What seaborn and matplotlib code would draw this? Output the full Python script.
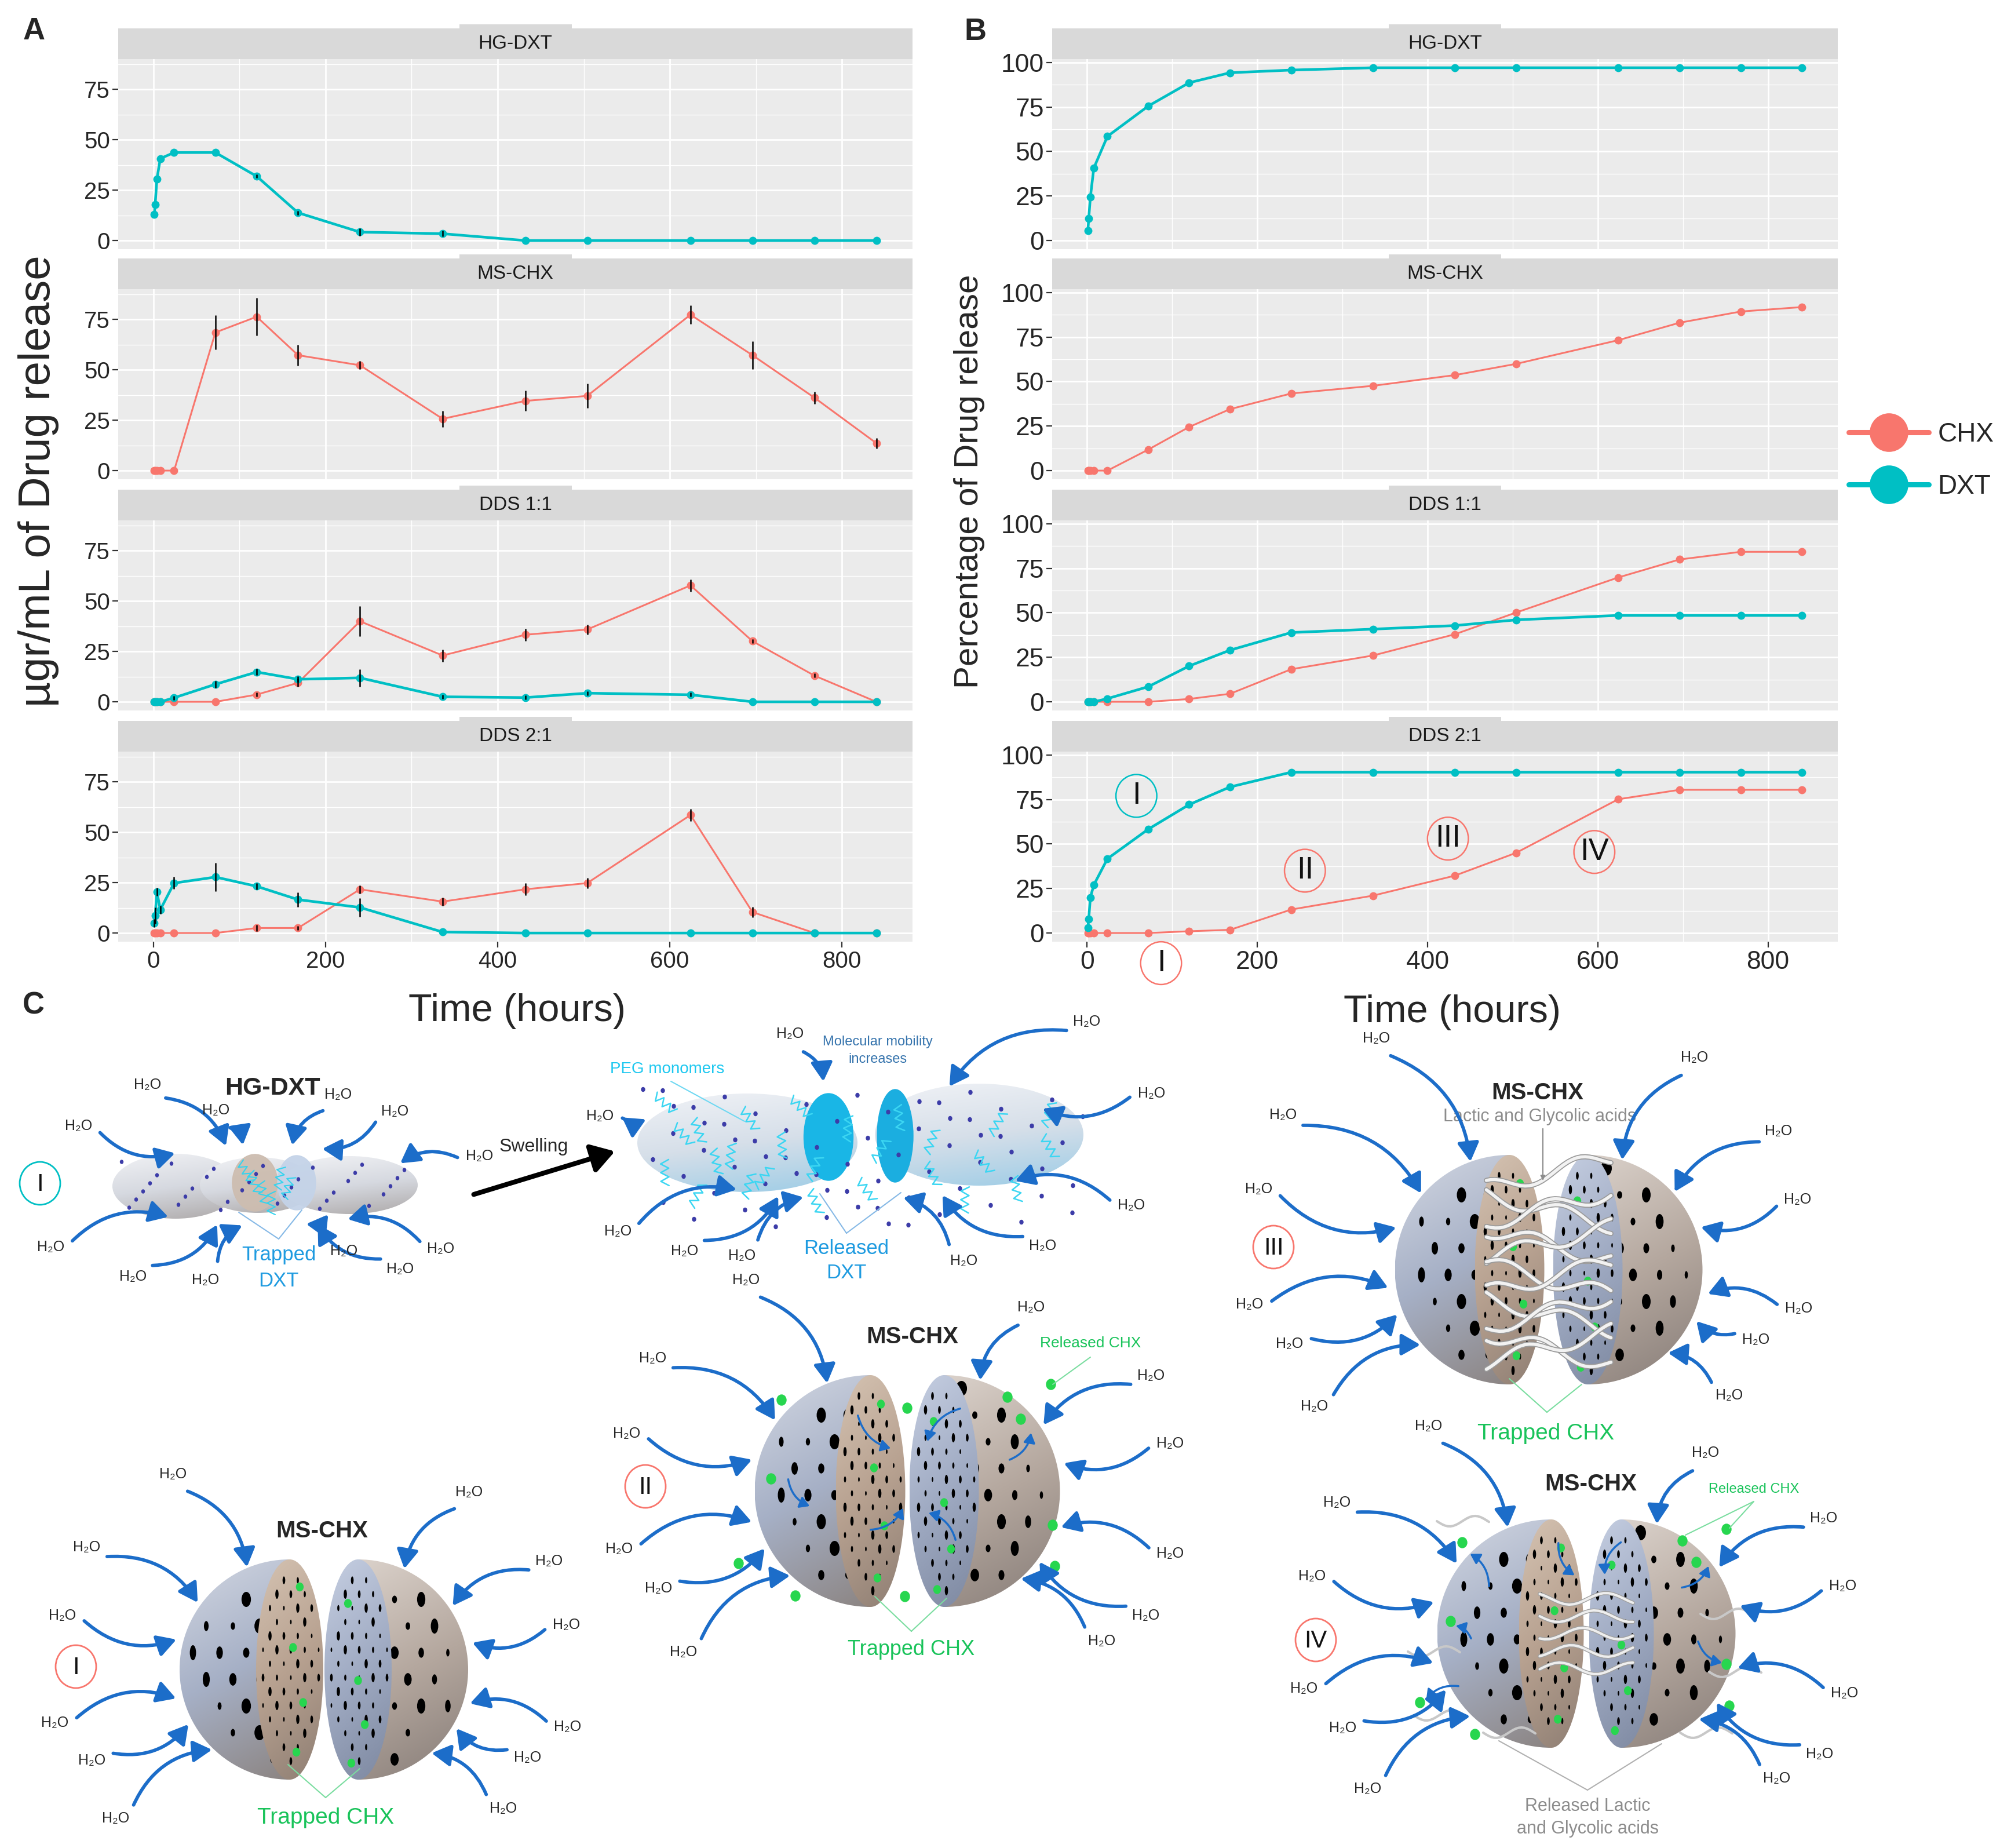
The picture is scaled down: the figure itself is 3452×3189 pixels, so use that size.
import matplotlib.pyplot as plt
import matplotlib.patheffects as pe
import numpy as np
import pandas as pd
import seaborn as sns
from matplotlib.colors import LinearSegmentedColormap
from matplotlib.lines import Line2D
from matplotlib.patches import Ellipse, FancyArrowPatch, Rectangle, Wedge

W, H = 3452, 3189
PALETTE = {'CHX': '#F8766D', 'DXT': '#00BFC4'}
LINE_W = {'CHX': 2.2, 'DXT': 3.3}
WATER = '#1C6DC9'
GREEN = '#19C35A'

times = [1, 2, 4, 8, 24, 72, 120, 168, 240, 336, 432, 504, 624, 696, 768, 840]
facets = ['HG-DXT', 'MS-CHX', 'DDS 1:1', 'DDS 2:1']

# A: ugr/mL released (mean and half error bar)
conc_hg_dxt = [13.1, 17.9, 30.5, 40.7, 43.7, 43.7, 31.9, 13.8, 4.2, 3.4, 0, 0, 0, 0, 0, 0]
conc_hg_dxt_err = [0, 0, 0, 0, 0, 0, 0.8, 1.0, 2.0, 1.5, 0, 0, 0, 0, 0, 0]
conc_ms_chx = [0, 0, 0, 0, 0, 68.6, 76.4, 57.3, 52.3, 25.7, 34.6, 37.1, 77.4, 57.3, 36.2, 13.6]
conc_ms_chx_err = [0, 0, 0, 0, 0, 8.4, 9.4, 5.2, 2.0, 4.0, 5.0, 6.0, 4.5, 7.0, 3.0, 2.5]
conc_dds11_chx = [0, 0, 0, 0, 0, 0, 3.6, 9.4, 40.0, 23.0, 33.3, 35.9, 57.8, 30.1, 13.0, 0]
conc_dds11_chx_err = [0, 0, 0, 0, 0, 0, 1.0, 2.0, 7.6, 3.0, 3.0, 2.5, 3.0, 1.0, 1.0, 0]
conc_dds11_dxt = [0, 0, 0, 0, 2.0, 8.7, 14.8, 11.2, 11.9, 2.5, 2.1, 4.3, 3.5, 0, 0, 0]
conc_dds11_dxt_err = [0, 0, 0, 0, 1.0, 1.8, 1.5, 1.5, 4.3, 1.0, 1.0, 1.0, 1.0, 0, 0, 0]
conc_dds21_chx = [0, 0, 0, 0, 0, 0, 2.5, 2.5, 21.7, 15.6, 21.7, 24.8, 58.6, 10.4, 0, 0]
conc_dds21_chx_err = [0, 0, 0, 0, 0, 0, 1.5, 1.0, 2.0, 2.0, 3.0, 2.5, 3.0, 2.5, 0, 0]
conc_dds21_dxt = [5.0, 8.6, 20.4, 11.6, 24.8, 27.8, 23.2, 16.6, 12.7, 0.5, 0, 0, 0, 0, 0, 0]
conc_dds21_dxt_err = [2.0, 4.0, 2.0, 2.0, 3.0, 7.0, 1.5, 3.5, 4.5, 0, 0, 0, 0, 0, 0, 0]

# B: cumulative percentage released
pct_hg_dxt = [5.4, 12.3, 24.5, 40.7, 58.5, 75.5, 88.6, 94.2, 95.7, 97, 97, 97, 97, 97, 97, 97]
pct_ms_chx = [0, 0, 0, 0, 0, 11.8, 24.5, 34.5, 43.3, 47.6, 53.6, 59.9, 73.2, 83.0, 89.3, 91.8]
pct_dds11_chx = [0, 0, 0, 0, 0, 0, 1.6, 4.5, 18.3, 26.0, 37.9, 50.1, 69.8, 79.9, 84.2, 84.2]
pct_dds11_dxt = [0, 0, 0, 0, 1.8, 8.5, 20.1, 29.0, 38.9, 40.8, 42.8, 46.0, 48.5, 48.5, 48.5, 48.5]
pct_dds21_chx = [0, 0, 0, 0, 0, 0, 1.0, 1.8, 13.2, 21.0, 32.2, 45.0, 75.1, 80.4, 80.4, 80.4]
pct_dds21_dxt = [3.0, 7.9, 20.0, 27.0, 41.7, 58.3, 72.1, 82.0, 90.3, 90.3, 90.3, 90.3,
                 90.3, 90.3, 90.3, 90.3]

# release stages marked on B / DDS 2:1
stage_labels = ['I', 'II', 'III', 'IV', 'I']
stage_times = [58, 256, 424, 596, 87]
stage_pcts = [77, 35, 53, 45.5, -16.9]
stage_drugs = ['DXT', 'CHX', 'CHX', 'CHX', 'CHX']

# layout (pixels)
PANEL_TOP = [102, 499, 898, 1297]
PANEL_H = 328
STRIP_H = 53
NUMERAL_FONT = ['Liberation Sans', 'DejaVu Sans']


def long_frame(pairs):
    rows = []
    for facet, drug, vals, errs in pairs:
        errs = errs if errs is not None else [0] * len(vals)
        for t, v, e in zip(times, vals, errs):
            rows.append({'facet': facet, 'drug': drug, 'time': t, 'value': v, 'err': e})
    return pd.DataFrame(rows)


conc = long_frame([
    ('HG-DXT', 'DXT', conc_hg_dxt, conc_hg_dxt_err),
    ('MS-CHX', 'CHX', conc_ms_chx, conc_ms_chx_err),
    ('DDS 1:1', 'CHX', conc_dds11_chx, conc_dds11_chx_err),
    ('DDS 1:1', 'DXT', conc_dds11_dxt, conc_dds11_dxt_err),
    ('DDS 2:1', 'CHX', conc_dds21_chx, conc_dds21_chx_err),
    ('DDS 2:1', 'DXT', conc_dds21_dxt, conc_dds21_dxt_err),
])
pct = long_frame([
    ('HG-DXT', 'DXT', pct_hg_dxt, None),
    ('MS-CHX', 'CHX', pct_ms_chx, None),
    ('DDS 1:1', 'CHX', pct_dds11_chx, None),
    ('DDS 1:1', 'DXT', pct_dds11_dxt, None),
    ('DDS 2:1', 'CHX', pct_dds21_chx, None),
    ('DDS 2:1', 'DXT', pct_dds21_dxt, None),
])

sns.set_theme(style='darkgrid')
plt.rcParams['font.family'] = ['Liberation Sans', 'DejaVu Sans']

fig = plt.figure(figsize=(W / 100, H / 100), dpi=100)
fig.patch.set_facecolor('white')

ov = fig.add_axes([0, 0, 1, 1])
ov.axis('off')


def fig_rect(x0, y0, x1, y1):
    return [x0 / W, 1 - y1 / H, (x1 - x0) / W, (y1 - y0) / H]


def draw_column(df, x0, x1, tick_size):
    hi = (df['value'] + df['err']).max()
    ylim = (-0.05 * hi, 1.05 * hi)
    t_lo, t_hi = min(times), max(times)
    xlim = (t_lo - 0.05 * (t_hi - t_lo), t_hi + 0.05 * (t_hi - t_lo))
    axes = []
    for i, facet in enumerate(facets):
        top = PANEL_TOP[i]
        strip = fig.add_axes(fig_rect(x0, top - STRIP_H, x1, top))
        strip.set_facecolor('#D9D9D9')
        strip.set_xticks([])
        strip.set_yticks([])
        strip.grid(False)
        for s in strip.spines.values():
            s.set_visible(False)
        strip.text(0.5, 0.5, facet, ha='center', va='center', fontsize=24,
                   color='#1A1A1A', transform=strip.transAxes)

        ax = fig.add_axes(fig_rect(x0, top, x1, top + PANEL_H))
        ax.set_facecolor('#EBEBEB')
        sub = df[df['facet'] == facet]
        sns.lineplot(data=sub, x='time', y='value', hue='drug', size='drug',
                     palette=PALETTE, sizes=LINE_W, marker='o', markersize=10,
                     markeredgewidth=0, errorbar=None, legend=False, ax=ax)
        bars = sub[sub['err'] > 0]
        ax.vlines(bars['time'], bars['value'] - bars['err'], bars['value'] + bars['err'],
                  color='black', lw=1.8, zorder=4)
        ax.set_xlim(xlim)
        ax.set_ylim(ylim)
        ax.set_xticks([0, 200, 400, 600, 800])
        ax.set_xticks([100, 300, 500, 700], minor=True)
        ax.set_yticks(np.arange(0, ylim[1], 25))
        ax.set_yticks(np.arange(12.5, ylim[1], 25), minor=True)
        ax.grid(True, which='major', color='white', lw=2.0)
        ax.grid(True, which='minor', color='white', lw=1.0)
        ax.set_axisbelow(True)
        ax.set_xlabel('')
        ax.set_ylabel('')
        for s in ax.spines.values():
            s.set_visible(False)
        ax.tick_params(which='minor', length=0)
        ax.tick_params(axis='y', which='major', left=True, length=7, width=1.6,
                       color='#333333', labelsize=tick_size, labelcolor='#262626', pad=3)
        if i == len(facets) - 1:
            ax.tick_params(axis='x', which='major', bottom=True, length=7, width=1.6,
                           color='#333333', labelsize=tick_size, labelcolor='#262626', pad=4)
        else:
            ax.tick_params(axis='x', which='major', length=0, labelbottom=False)
        axes.append(ax)
        ov.add_patch(Rectangle(((x0 + x1) / 2 - 97, top - STRIP_H - 7), 194, 7,
                               color='#D9D9D9', lw=0))
    return axes


axes_a = draw_column(conc, 204, 1575, 29)
axes_b = draw_column(pct, 1816, 3172, 32)

# release stage marks on B / DDS 2:1
ax_s = axes_b[-1]
for lab, t, p, drug in zip(stage_labels, stage_times, stage_pcts, stage_drugs):
    ax_s.add_patch(Ellipse((t, p), 48, 24, fill=False, ec=PALETTE[drug], lw=1.8,
                           clip_on=False, zorder=6))
    ax_s.text(t, p, lab, ha='center', va='center', fontsize=38,
              family=NUMERAL_FONT, color='#111111', clip_on=False, zorder=6)

handles = [Line2D([], [], color=PALETTE[d], lw=6.5, marker='o', markersize=48,
                  markeredgewidth=0) for d in ['CHX', 'DXT']]
fig.legend(handles, ['CHX', 'DXT'], loc='center left',
           bbox_to_anchor=(3191 / W, 1 - 795 / H), frameon=False, fontsize=33,
           handlelength=3.0, handletextpad=0.35, labelspacing=1.0,
           borderpad=0, borderaxespad=0)

# titles and panel letters
ov.text(892, 1745, 'Time (hours)', ha='center', va='center', fontsize=48)
ov.text(2506, 1747, 'Time (hours)', ha='center', va='center', fontsize=48)
ov.text(66, 830, 'µgr/mL of Drug release', rotation=90, ha='center', va='center', fontsize=55)
ov.text(1673, 831, 'Percentage of Drug release', rotation=90, ha='center', va='center',
        fontsize=42)
for letter, x, y in [('A', 59, 54), ('B', 1683, 55), ('C', 58, 1736)]:
    ov.text(x, y, letter, ha='center', va='center', fontsize=38, fontweight='bold')


# ---------- panel C: schematic ----------
def shade(patch, box, colors, z):
    ov.add_patch(patch)
    patch.set_facecolor('none')
    patch.set_edgecolor('none')
    patch.set_zorder(z)
    cmap = LinearSegmentedColormap.from_list('shade', colors)
    yy, xx = np.mgrid[0:1:80j, 0:1:80j]
    im = ov.imshow(0.78 * yy + 0.22 * xx, cmap=cmap, extent=(box[0], box[2], box[3], box[1]),
                   aspect='auto', zorder=z, interpolation='bilinear')
    im.set_clip_path(patch)


def holes(cx, cy, R, step, big, narrow, z, face_w=None, side=0):
    n = int(2 * R / step) + 1
    for r in range(n):
        for c in range(n + 1):
            x = cx - R + (c + 0.5 * (r % 2)) * step
            y = cy - R + (r + 0.5) * step
            if face_w is None:
                if (x - cx) ** 2 + (y - cy) ** 2 > (0.9 * R) ** 2 or (x - cx) * side < 0:
                    continue
                squeeze = max(0.35, 1 - abs(x - cx) / R * 0.55)
            else:
                if ((x - cx) / face_w) ** 2 + ((y - cy) / R) ** 2 > 0.8:
                    continue
                squeeze = 1.0
            s = big * (0.5 + 0.5 * ((r * 5 + c * 3) % 4) / 3)
            ov.add_patch(Ellipse((x, y), s * narrow * squeeze, s, color='black', lw=0, zorder=z))


def split_sphere(cx, cy, R, gap, fw):
    xl, xr = cx - gap / 2, cx + gap / 2
    shade(Wedge((xl, cy), R, 90, 270), (xl - R, cy - R, xl, cy + R),
          ['#D2D7E2', '#A6B0C6', '#8C8583'], 3)
    holes(xl, cy, R, 46, 26, 0.8, 3.5, side=-1)
    shade(Ellipse((xl, cy), 2 * fw, 2 * R), (xl - fw, cy - R, xl + fw, cy + R),
          ['#D5C3B2', '#B7A190', '#8E7E73'], 4)
    holes(xl, cy, R, 24, 16, 0.35, 4.5, face_w=fw)
    shade(Wedge((xr, cy), R, -90, 90), (xr, cy - R, xr + R, cy + R),
          ['#DAD1CA', '#B4A79E', '#877D78'], 3)
    holes(xr, cy, R, 46, 26, 0.8, 3.5, side=1)
    shade(Ellipse((xr, cy), 2 * fw, 2 * R), (xr - fw, cy - R, xr + fw, cy + R),
          ['#C6CFE2', '#A0ABC3', '#7D88A0'], 4)
    holes(xr, cy, R, 24, 16, 0.35, 4.5, face_w=fw)
    for fx, fy in [(0.3, -0.75), (0.1, -0.2), (0.4, 0.3), (0.2, 0.75)]:
        ov.add_patch(Ellipse((xl + fw * fx, cy + R * fy), 12, 14, color='#27D64F', zorder=5))
    for fx, fy in [(-0.3, -0.6), (0.0, 0.1), (0.2, 0.5), (-0.2, 0.85)]:
        ov.add_patch(Ellipse((xr + fw * fx, cy + R * fy), 12, 14, color='#27D64F', zorder=5))
    return xl, xr


def water_arrows(cx, cy, rx, ry, labels):
    for k, (lx, ly) in enumerate(labels):
        phi = np.arctan2((ly - cy) / ry, (lx - cx) / rx)
        ex, ey = np.cos(phi), np.sin(phi)
        nx, ny = ex / np.hypot(ex, ey), ey / np.hypot(ex, ey)
        hx, hy = cx + rx * ex + 12 * nx, cy + ry * ey + 12 * ny
        d = np.hypot(hx - lx, hy - ly)
        tx, ty = lx + (hx - lx) * 36 / d, ly + (hy - ly) * 36 / d
        rad = 0.3 if k % 2 else -0.3
        ov.add_patch(FancyArrowPatch((tx, ty), (hx, hy), connectionstyle=f'arc3,rad={rad}',
                                     arrowstyle='-|>,head_length=0.7,head_width=0.4',
                                     mutation_scale=28, color=WATER, lw=4.2, zorder=7))
        ov.text(lx, ly, 'H₂O', ha='center', va='center', fontsize=18, zorder=8)


def circled(x, y, lab, color, size=30):
    ov.add_patch(Ellipse((x, y), 70, 74, fill=False, ec=color, lw=2, zorder=8))
    ov.text(x, y + 2, lab, ha='center', va='center', fontsize=size,
            family=NUMERAL_FONT, color='#111111', zorder=9)


def zigzag(x, y, length, angle, color, lw=1.8, z=6):
    n = 7
    s = np.linspace(0, length, n)
    off = np.where(np.arange(n) % 2, 7, -7)
    a = np.deg2rad(angle)
    xs = x + s * np.cos(a) - off * np.sin(a)
    ys = y + s * np.sin(a) + off * np.cos(a)
    ov.plot(xs, ys, color=color, lw=lw, zorder=z)


def leader(x0, y0, ends, color, lw=1.5):
    for ex, ey in ends:
        ov.plot([x0, ex], [y0, ey], color=color, lw=lw, zorder=9)


# I: hydrogel HG-DXT
for (gx, gy), gw, gh in [((303, 2047), 218, 112), ((445, 2045), 200, 96),
                         ((603, 2045), 236, 100)]:
    shade(Ellipse((gx, gy), gw, gh), (gx - gw / 2, gy - gh / 2, gx + gw / 2, gy + gh / 2),
          ['#F1F2F5', '#D6D9E0', '#ADA9A9'], 3)
ov.add_patch(Ellipse((440, 2041), 78, 98, color='#CDBDB0', alpha=0.95, zorder=4))
ov.add_patch(Ellipse((512, 2041), 66, 94, color='#C4D3E8', alpha=0.95, zorder=4))
for k in range(6):
    zigzag(414 + k * 18, 2005 + (k * 17) % 60, 40, 60 + k * 10, '#35D3EE', lw=1.5)
for k in range(34):
    ov.add_patch(Ellipse((210 + (k * 61) % 500, 2005 + (k * 23) % 85), 5, 6,
                         color='#3C3CA8', zorder=5))
ov.text(470, 1878, 'HG-DXT', ha='center', va='center', fontsize=31, fontweight='bold')
ov.text(481, 2165, 'Trapped', ha='center', va='center', fontsize=25, color='#1F9BE0')
ov.text(481, 2211, 'DXT', ha='center', va='center', fontsize=25, color='#1F9BE0')
leader(481, 2138, [(412, 2092), (521, 2088)], '#86B9E6')
water_arrows(457, 2046, 264, 56, [(255, 1872), (136, 1943), (373, 1916), (584, 1889),
                                  (682, 1918), (828, 1995), (88, 2152), (230, 2203),
                                  (355, 2209), (594, 2159), (691, 2190), (761, 2155)])
circled(69, 2042, 'I', PALETTE['DXT'])

ov.text(921, 1979, 'Swelling', ha='center', va='center', fontsize=23)
ov.add_patch(FancyArrowPatch((815, 2062), (1064, 1986), arrowstyle='-|>,head_length=0.8,head_width=0.5',
                             mutation_scale=30, color='black', lw=6, zorder=7))

# swollen hydrogel
shade(Ellipse((1290, 1972), 380, 170), (1100, 1887, 1480, 2057), ['#F0F2F6', '#D6DFE9', '#9CCCE6'], 3)
shade(Ellipse((1690, 1958), 360, 176), (1510, 1870, 1870, 2046), ['#F0F2F6', '#D6DFE9', '#9CCCE6'], 3)
ov.add_patch(Ellipse((1430, 1962), 85, 150, color='#19B6E6', zorder=4))
ov.add_patch(Ellipse((1545, 1960), 62, 160, color='#1BAEE0', zorder=4))
for k in range(26):
    zigzag(1130 + (k * 67) % 720, 1890 + (k * 41) % 170, 45, 40 + (k * 29) % 90, '#3CD6F2')
for k in range(70):
    ov.add_patch(Ellipse((1110 + (k * 53) % 760, 1880 + (k * 29) % 240), 6, 7,
                         color='#3C3CA8', zorder=5))
ov.text(1152, 1845, 'PEG monomers', ha='center', va='center', fontsize=20, color='#1EC8F0')
leader(1158, 1866, [(1285, 1935)], '#6FD8F2')
ov.text(1515, 1798, 'Molecular mobility', ha='center', va='center', fontsize=17, color='#3674AD')
ov.text(1515, 1828, 'increases', ha='center', va='center', fontsize=17, color='#3674AD')
ov.text(1461, 2155, 'Released', ha='center', va='center', fontsize=25, color='#1F9BE0')
ov.text(1461, 2196, 'DXT', ha='center', va='center', fontsize=25, color='#1F9BE0')
leader(1461, 2128, [(1415, 2060), (1555, 2058)], '#86B9E6')
water_arrows(1476, 1968, 375, 88, [(1364, 1784), (1036, 1926), (1067, 2125), (1182, 2159),
                                   (1281, 2167), (1664, 2176), (1800, 2150), (1876, 1763),
                                   (1988, 1887), (1953, 2080)])

# MS-CHX, stage I
split_sphere(559, 2881, 190, 118, 58)
ov.text(556, 2642, 'MS-CHX', ha='center', va='center', fontsize=29, fontweight='bold')
ov.text(562, 3137, 'Trapped CHX', ha='center', va='center', fontsize=28, color=GREEN)
leader(562, 3102, [(497, 3045), (621, 3052)], '#7BDDA0')
water_arrows(559, 2881, 249, 190, [(299, 2544), (810, 2575), (150, 2670), (108, 2788),
                                   (95, 2973), (159, 3038), (200, 3138), (948, 2694),
                                   (978, 2804), (980, 2980), (911, 3033), (869, 3121)])
circled(131, 2876, 'I', PALETTE['CHX'])

# MS-CHX, stage II
split_sphere(1566, 2573, 200, 127, 60)
for gx, gy in [(1349, 2416), (1566, 2430), (1331, 2552), (1275, 2698), (1373, 2754),
               (1562, 2755), (1817, 2632), (1821, 2703), (1739, 2411), (1762, 2449),
               (1814, 2389)]:
    ov.add_patch(Ellipse((gx, gy), 16, 18, color='#27D64F', zorder=6))
for (ax0, ay0), (ax1, ay1) in [((1480, 2440), (1540, 2500)), ((1660, 2430), (1600, 2490)),
                               ((1500, 2640), (1560, 2600)), ((1650, 2660), (1600, 2610)),
                               ((1740, 2520), (1780, 2470)), ((1360, 2550), (1400, 2600))]:
    ov.add_patch(FancyArrowPatch((ax0, ay0), (ax1, ay1), connectionstyle='arc3,rad=0.3',
                                 arrowstyle='-|>,head_length=0.5,head_width=0.3',
                                 mutation_scale=20, color=WATER, lw=2.5, zorder=6))
ov.text(1575, 2307, 'MS-CHX', ha='center', va='center', fontsize=29, fontweight='bold')
ov.text(1882, 2318, 'Released CHX', ha='center', va='center', fontsize=19, color=GREEN)
leader(1882, 2342, [(1817, 2389)], '#7BDDA0')
ov.text(1573, 2847, 'Trapped CHX', ha='center', va='center', fontsize=26, color=GREEN)
leader(1573, 2815, [(1510, 2755), (1634, 2758)], '#7BDDA0')
water_arrows(1566, 2573, 263, 200, [(1288, 2209), (1780, 2256), (1127, 2344), (1082, 2474),
                                    (1069, 2673), (1137, 2741), (1180, 2851), (1987, 2374),
                                    (2020, 2491), (2020, 2681), (1978, 2788), (1902, 2832)])
circled(1114, 2565, 'II', PALETTE['CHX'])

# MS-CHX, stage III
xl3, xr3 = split_sphere(2673, 2191, 198, 135, 60)
for k in range(11):
    y0 = 2191 - 150 + k * 30
    xs = np.linspace(xl3 - 40, xr3 + 40, 30)
    ys = y0 + 14 * np.sin((xs - xl3) / 25 + k) + (xs - xl3) * 0.25 * (1 if k % 2 else -1)
    ov.plot(xs, ys, color='#F2F2F2', lw=4, zorder=6,
            path_effects=[pe.Stroke(linewidth=6.5, foreground='#9A9A9A'), pe.Normal()])
ov.text(2654, 1886, 'MS-CHX', ha='center', va='center', fontsize=29, fontweight='bold')
ov.text(2658, 1927, 'Lactic and Glycolic acids', ha='center', va='center', fontsize=22,
        color='#8C8C8C')
ov.annotate('', xy=(2663, 2040), xytext=(2663, 1945),
            arrowprops=dict(arrowstyle='-|>', color='#8C8C8C', lw=1.5), zorder=9)
ov.text(2668, 2474, 'Trapped CHX', ha='center', va='center', fontsize=28, color=GREEN)
leader(2670, 2437, [(2605, 2379), (2730, 2389)], '#7BDDA0')
water_arrows(2673, 2191, 266, 198, [(2376, 1792), (2925, 1825), (2215, 1924), (2173, 2052),
                                    (2157, 2251), (2226, 2319), (2269, 2427), (3070, 1952),
                                    (3103, 2070), (3105, 2258), (3031, 2312), (2985, 2408)])
circled(2198, 2152, 'III', PALETTE['CHX'])

# MS-CHX, stage IV
xl4, xr4 = split_sphere(2738, 2819, 197, 121, 56)
for k in range(5):
    y0 = 2819 - 60 + k * 30
    xs = np.linspace(xl4 - 20, xr4 + 20, 20)
    ys = y0 + 10 * np.sin((xs - xl4) / 20 + k)
    ov.plot(xs, ys, color='#EEEEEE', lw=3, zorder=6,
            path_effects=[pe.Stroke(linewidth=5, foreground='#A0A0A0'), pe.Normal()])
for sx, sy in [(2480, 2625), (2430, 2850), (2440, 2960), (2935, 2785), (2950, 2885),
               (2560, 2990), (2900, 2990)]:
    xs = np.linspace(sx, sx + 90, 20)
    ov.plot(xs, sy + 9 * np.sin((xs - sx) / 14), color='#C8C8C8', lw=3, zorder=6)
for gx, gy in [(2524, 2662), (2504, 2798), (2451, 2938), (2546, 2993), (2904, 2659),
               (2980, 2639), (2928, 2696), (2980, 2872), (2985, 2944)]:
    ov.add_patch(Ellipse((gx, gy), 16, 18, color='#27D64F', zorder=6))
for (ax0, ay0), (ax1, ay1) in [((2570, 2740), (2535, 2680)), ((2540, 2830), (2510, 2805)),
                               ((2520, 2910), (2460, 2935)), ((2900, 2740), (2950, 2700)),
                               ((2930, 2830), (2975, 2870)), ((2690, 2660), (2720, 2720)),
                               ((2800, 2660), (2770, 2720))]:
    ov.add_patch(FancyArrowPatch((ax0, ay0), (ax1, ay1), connectionstyle='arc3,rad=0.3',
                                 arrowstyle='-|>,head_length=0.5,head_width=0.3',
                                 mutation_scale=20, color=WATER, lw=2.5, zorder=7))
ov.text(2746, 2561, 'MS-CHX', ha='center', va='center', fontsize=29, fontweight='bold')
ov.text(3027, 2570, 'Released CHX', ha='center', va='center', fontsize=17, color=GREEN)
leader(3027, 2591, [(2909, 2649), (2985, 2637)], '#7BDDA0')
ov.text(2740, 3117, 'Released Lactic', ha='center', va='center', fontsize=22, color='#8C8C8C')
ov.text(2740, 3156, 'and Glycolic acids', ha='center', va='center', fontsize=22, color='#8C8C8C')
leader(2740, 3089, [(2587, 3004), (2868, 3009)], '#B0B0B0')
water_arrows(2738, 2819, 258, 197, [(2466, 2461), (2944, 2507), (2308, 2593), (2265, 2720),
                                    (2251, 2914), (2318, 2982), (2361, 3087), (3148, 2620),
                                    (3181, 2737), (3184, 2922), (3141, 3027), (3067, 3069)])
circled(2271, 2830, 'IV', PALETTE['CHX'])

ov.set_xlim(0, W)
ov.set_ylim(H, 0)
ov.set_aspect('auto')

fig.savefig('out.png', dpi=100)
